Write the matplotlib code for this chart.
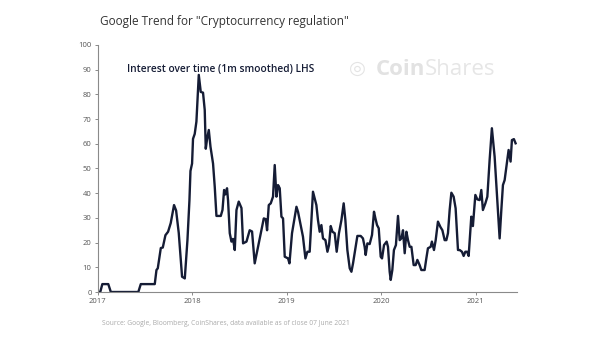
import matplotlib
matplotlib.use("Agg")
import matplotlib.pyplot as plt

# weekly google trend, 1m smoothed (decimal year, interest)
dates = [
    2017.000, 2017.026, 2017.048, 2017.111, 2017.138, 2017.429, 2017.455, 2017.603,
    2017.621, 2017.635, 2017.667, 2017.688, 2017.716, 2017.744, 2017.772, 2017.807,
    2017.829, 2017.857, 2017.878, 2017.892, 2017.921, 2017.949, 2017.970, 2017.981,
    2017.998, 2018.008, 2018.026, 2018.044, 2018.069,
    2018.090, 2018.114, 2018.132, 2018.143, 2018.157, 2018.175, 2018.193, 2018.220,
    2018.238, 2018.256, 2018.302, 2018.320, 2018.337, 2018.351, 2018.368, 2018.379,
    2018.397, 2018.415, 2018.432, 2018.450, 2018.468, 2018.492, 2018.521, 2018.538,
    2018.574, 2018.608, 2018.633, 2018.661, 2018.690, 2018.732, 2018.757, 2018.778,
    2018.792, 2018.810, 2018.831, 2018.855, 2018.873, 2018.891, 2018.908, 2018.926,
    2018.944, 2018.961,
    2018.979, 2019.014, 2019.029, 2019.056, 2019.085, 2019.103, 2019.120, 2019.148,
    2019.172, 2019.198, 2019.219, 2019.243, 2019.278, 2019.296, 2019.314, 2019.331,
    2019.349, 2019.367, 2019.384, 2019.410, 2019.431, 2019.448, 2019.466, 2019.484,
    2019.508, 2019.529, 2019.553, 2019.579, 2019.603, 2019.621, 2019.642, 2019.667,
    2019.685, 2019.702, 2019.727, 2019.748, 2019.783, 2019.807, 2019.825, 2019.836,
    2019.854, 2019.878, 2019.903, 2019.924, 2019.939, 2019.956, 2019.974, 2019.995,
    2020.009, 2020.030, 2020.058, 2020.072, 2020.090, 2020.101, 2020.118, 2020.135,
    2020.156, 2020.178, 2020.196, 2020.214, 2020.231, 2020.249, 2020.267, 2020.284,
    2020.302, 2020.320, 2020.344, 2020.365, 2020.383, 2020.407, 2020.425, 2020.460,
    2020.478, 2020.495, 2020.524, 2020.537, 2020.559, 2020.577, 2020.601, 2020.626,
    2020.648, 2020.672, 2020.690, 2020.707, 2020.725, 2020.743, 2020.767, 2020.788,
    2020.813, 2020.831, 2020.855, 2020.873, 2020.891, 2020.910, 2020.926, 2020.954,
    2020.971, 2020.997, 2021.018, 2021.042, 2021.060, 2021.077, 2021.103, 2021.124,
    2021.148, 2021.172, 2021.201, 2021.225, 2021.254, 2021.272, 2021.289, 2021.307,
    2021.331, 2021.349, 2021.370, 2021.384, 2021.405, 2021.423,
]
interest = [
    0, 0, 3.2, 3.2, 0, 0, 3.2, 3.2,
    8.9, 9.6, 17.8, 18, 23, 24.4, 27.9, 35.2,
    33, 23.9, 13, 6.2, 5.5, 21, 37, 49,
    52, 62, 64, 69, 87.9,
    81, 80.7, 73.7, 58, 62, 65.6, 58.8, 52,
    42.6, 30.8, 30.8, 33.2, 41.3, 39.5, 42, 37,
    23.8, 20.4, 21.5, 17, 33.2, 36.6, 34, 19.7,
    20.4, 25, 24.5, 11.6, 17, 25, 29.8, 29.5,
    25, 35.2, 35.9, 38.6, 51.4, 38.6, 43.3, 42,
    30.5, 29.8,
    14.3, 13.6, 11.6, 23.8, 30.5, 34.5, 32.4, 27.1,
    22.4, 13.6, 16.3, 16.3, 40.6, 37.9, 35.2, 29.1,
    24.4, 27.1, 21.7, 21, 16.3, 19, 26.7, 24.4,
    23.8, 16.3, 23.8, 29.1, 35.9, 29.1, 17, 9.6,
    8.2, 11.6, 17.7, 22.7, 22.7, 21.7, 18.3, 15,
    19.7, 19.4, 23.1, 32.5, 29.8, 27.1, 25.8, 14.3,
    13.6, 19, 20.4, 18.3, 8.2, 4.9, 8.9, 17,
    19, 30.8, 21, 21.7, 25, 15.7, 24.4, 21,
    18.3, 18.3, 10.9, 10.9, 13, 10.9, 8.9, 8.9,
    13.6, 17.7, 18.3, 20.4, 17, 21, 28.5, 26.4,
    25, 21, 21, 23.8, 33.2, 40.2, 38.6, 33.9,
    17, 17, 16.3, 14.6, 16.3, 16.3, 14.6, 30.5,
    26.7, 39.3, 37.5, 37.2, 41.3, 33.2, 35.9, 38.6,
    53.4, 66.3, 54.8, 40, 21.7, 33.2, 43.3, 45.3,
    52.1, 57.5, 52.8, 61.5, 61.9, 60.2,
]

year_ticks = [2017, 2018, 2019, 2020, 2021]
y_ticks = list(range(0, 101, 10))

navy = "#151c35"
grey = "#8a8a8a"
font = "Open Sans"

fig = plt.figure(figsize=(6.0, 3.37), dpi=100)
ax = fig.add_axes([0.163, 0.1335, 0.699, 0.733])

ax.plot(dates, interest, color=navy, lw=1.7, solid_joinstyle="round")

ax.set_xlim(2017, 2021.44)
ax.set_ylim(0, 100)
ax.set_xticks(year_ticks)
ax.set_xticklabels([str(y) for y in year_ticks])
ax.set_yticks(y_ticks)

for side in ("top", "right"):
    ax.spines[side].set_visible(False)
for side in ("left", "bottom"):
    ax.spines[side].set_color(grey)
    ax.spines[side].set_linewidth(0.8)
ax.tick_params(axis="both", colors=grey, labelcolor="#555555", labelsize=5.5,
               length=2.5, width=0.7, pad=2)
for lbl in ax.get_xticklabels() + ax.get_yticklabels():
    lbl.set_family(font)

fig.text(0.167, 0.935, "Google Trend for \"Cryptocurrency regulation\"",
         fontsize=8.5, color="#333333", family=font, va="center")
ax.text(0.07, 0.9, "Interest over time (1m smoothed) LHS", transform=ax.transAxes,
        fontsize=7.3, color=navy, family=font, fontweight="semibold", va="center")

# faded watermark
ax.text(0.60, 0.905, "\u25CE", transform=ax.transAxes, fontsize=14,
        color="#e4e4e4", family="DejaVu Sans", va="center")
coin = ax.text(0.662, 0.9, "Coin", transform=ax.transAxes, fontsize=16,
               color="#e2e2e2", family=font, fontweight="bold", va="center")
ax.annotate("Shares", xy=(1, 0), xycoords=coin, fontsize=16, color="#e6e6e6",
            family=font, va="bottom", ha="left")

fig.text(0.17, 0.04, "Source: Google, Bloomberg, CoinShares, data available as of close 07 June 2021",
         fontsize=4.9, color="#aaaaaa", family=font, va="center")

fig.savefig("out.png", dpi=100, facecolor="white")
